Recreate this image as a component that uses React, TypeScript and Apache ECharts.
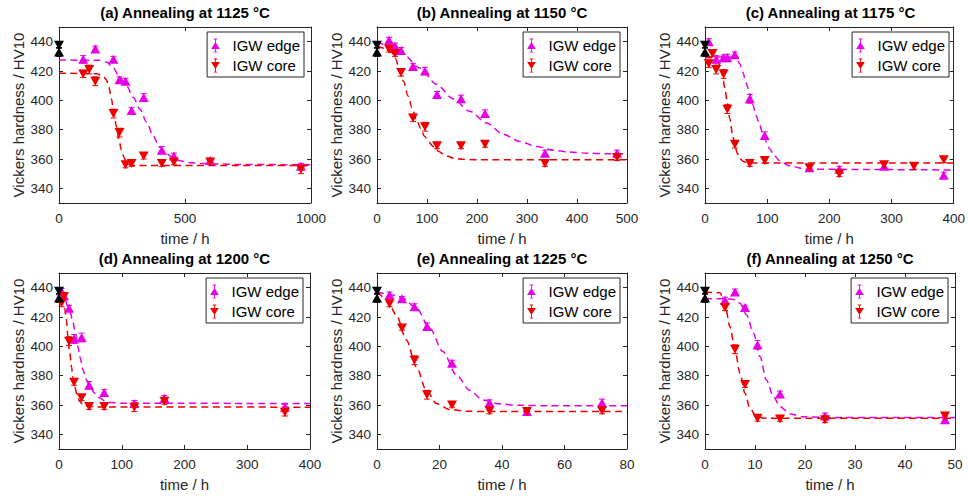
import React, { useEffect, useRef } from "react";
import * as echarts from "echarts";

type Pt = [number, number, number]; // time, hardness, error
type FP = [number, number]; // time, fitted hardness

// ---- tick labels ----
const yTicks = [340, 360, 380, 400, 420, 440];
const xMaxes = [1000, 500, 400, 400, 80, 50];
const xIntervals = [500, 100, 100, 100, 20, 10];
const titles = [
  "(a) Annealing at 1125 °C",
  "(b) Annealing at 1150 °C",
  "(c) Annealing at 1175 °C",
  "(d) Annealing at 1200 °C",
  "(e) Annealing at 1225 °C",
  "(f) Annealing at 1250 °C",
];

// ---- initial (as-received) hardness ----
const initialEdge: Pt[] = [[0, 433, 3]];
const initialCore: Pt[] = [[0, 437.5, 2]];

// ---- (a) 1125 °C ----
const a_edge: Pt[] = [[96, 428, 2.5], [144, 435, 2], [216, 428, 2], [240, 414, 2], [264, 413, 2], [288, 393, 2], [336, 402, 2.5], [408, 366, 2.5], [456, 362, 2], [600, 359, 1.5], [960, 355, 2]];
const a_core: Pt[] = [[96, 418, 2.5], [120, 421, 3], [144, 413, 3], [216, 391, 3], [240, 378, 3], [264, 356, 2], [288, 357, 2], [336, 362, 2], [408, 357, 2], [456, 358, 2], [600, 358, 2], [960, 353, 3]];
const a_edgeFit: FP[] = [[0, 427.5], [160, 427.3], [190, 426], [216, 422], [240, 416], [268, 410], [295, 402], [321, 394], [348, 385], [374, 375.5], [400, 368], [427, 363.6], [455, 360.5], [480, 358.8], [520, 357.5], [560, 357], [700, 356.3], [1000, 356]];
const a_coreFit: FP[] = [[0, 418.5], [150, 418.2], [175, 416.5], [188, 414], [198, 409], [208, 401], [218, 391], [228, 382], [238, 373], [248, 366], [258, 361], [268, 357.5], [280, 356], [300, 355.5], [1000, 355.5]];

// ---- (b) 1150 °C ----
const b_edge: Pt[] = [[24, 441, 2], [36, 437, 2], [48, 434, 2], [72, 423, 2], [96, 420, 2.5], [120, 404, 2], [168, 401, 2.5], [216, 391, 2.5], [336, 364, 2], [480, 364, 2]];
const b_core: Pt[] = [[24, 435, 2], [36, 432, 2], [48, 419, 2.5], [72, 388, 2.5], [96, 382, 3], [120, 369, 2], [168, 369, 2], [216, 370, 2], [336, 357, 2], [480, 361, 2]];
const b_edgeFit: FP[] = [[0, 440], [25, 437], [52, 431.5], [85, 422], [119, 411], [152, 401], [185, 392.6], [219, 384.6], [252, 377], [285, 372], [319, 368.6], [352, 366], [385, 364.8], [419, 364], [460, 363.6], [500, 363.4]];
const b_coreFit: FP[] = [[0, 437], [15, 435.5], [29, 432.7], [37, 428.5], [45, 421], [53, 413], [62, 403], [70, 395], [79, 387], [87, 381], [95, 375.5], [104, 371.5], [112, 368.6], [122, 365.5], [132, 363.6], [142, 361.8], [152, 360.6], [170, 359.8], [200, 359.5], [500, 359.5]];

// ---- (c) 1175 °C ----
const c_edge: Pt[] = [[6, 440, 2], [18, 428, 2.5], [30, 429, 2], [36, 429, 2.5], [48, 431, 2], [72, 401, 3], [96, 376, 2.5], [168, 354, 2], [216, 353, 2], [288, 355, 2], [384, 349, 2]];
const c_core: Pt[] = [[6, 425, 2.5], [12, 432, 2], [18, 421, 3], [30, 418, 3], [36, 394, 3], [48, 370, 2.5], [72, 357, 2], [96, 359, 2], [168, 354, 2], [216, 350, 2], [288, 356, 2], [336, 355, 2], [384, 359.5, 2]];
const c_edgeFit: FP[] = [[0, 429], [20, 429.5], [40, 429.5], [50, 428.5], [56, 425], [61, 419], [66, 412], [72, 404.5], [77, 397], [82, 389.7], [88, 383], [93, 377], [99, 371.5], [104, 366.8], [112, 362], [120, 358.8], [136, 355.3], [162, 353], [400, 352.5]];
const c_coreFit: FP[] = [[0, 430], [10, 429], [16, 428], [20, 426.5], [24, 424], [28, 417], [32, 408], [36, 398], [40, 387.4], [44, 377.5], [48, 369], [52, 364], [56, 360.4], [61, 358.5], [66, 357.6], [80, 357.3], [400, 357.3]];

// ---- (d) 1200 °C ----
const d_edge: Pt[] = [[4, 437.5, 2], [8, 434.5, 2], [16, 426, 2], [24, 405, 3], [36, 406, 3], [48, 373.5, 2.5], [72, 368.5, 2], [120, 361, 2], [168, 364.5, 2], [360, 358.5, 2]];
const d_core: Pt[] = [[4, 429.5, 2.5], [8, 434, 2.5], [16, 403.5, 3], [24, 375.5, 2], [36, 365, 2], [48, 359, 2], [72, 359, 2], [120, 358.5, 3], [168, 362.5, 2], [360, 355, 2.5]];
const d_edgeFit: FP[] = [[0, 437], [8, 433], [14, 428], [18, 423], [22, 417], [26, 409], [30, 400], [34, 392], [38, 384], [44, 377], [49, 372.6], [57, 368], [65, 364.7], [73, 362.8], [81, 361.7], [100, 361.2], [400, 361]];
const d_coreFit: FP[] = [[0, 433], [5, 430], [9, 426], [12, 418], [14, 407], [17, 396], [20, 386], [22, 379], [25, 372.6], [29, 366.5], [33, 362.4], [38, 360.3], [44, 359.4], [60, 358.7], [400, 358.5]];

// ---- (e) 1225 °C ----
const e_edge: Pt[] = [[4, 435, 2], [8, 432.5, 1.5], [12, 427, 2], [16, 413.5, 2.5], [24, 388.5, 2], [36, 361.5, 2], [48, 355.5, 2], [72, 361.5, 2.5]];
const e_core: Pt[] = [[4, 429, 2], [8, 412.5, 1.5], [12, 390.5, 3], [16, 367, 3], [24, 360, 1.5], [36, 356, 2], [48, 355.5, 2], [72, 356, 2]];
const e_edgeFit: FP[] = [[0, 437], [4, 435.5], [8.3, 432.7], [12.6, 426], [16.9, 412.3], [21.1, 396.4], [25.4, 380.5], [29.7, 370], [33.9, 363.4], [39.3, 360.7], [45.7, 359.8], [55, 359.5], [80, 359.5]];
const e_coreFit: FP[] = [[0, 437], [3, 432.7], [6.2, 421.4], [9.4, 404.3], [12.6, 386], [15.8, 370], [19, 361], [23.3, 357], [28.6, 355.7], [35, 355.5], [80, 355.5]];

// ---- (f) 1250 °C ----
const f_edge: Pt[] = [[4, 431.5, 2], [6, 437, 2], [8, 426.5, 1.5], [10.5, 401, 3], [15, 367.5, 2], [24, 352.5, 2], [48, 350, 2]];
const f_core: Pt[] = [[4, 426.5, 2], [6, 398, 3], [8, 374, 2], [10.5, 351, 2], [15, 350.5, 1.5], [24, 350, 2], [48, 352.5, 2]];
const f_edgeFit: FP[] = [[0, 432.5], [4, 432.5], [5.7, 432], [7, 429.3], [8.3, 421.4], [9.7, 409], [11, 393], [12.3, 377], [13.7, 365.7], [15, 358.9], [17, 353.9], [19.7, 352], [24, 351.5], [50, 351.5]];
const f_coreFit: FP[] = [[0, 437], [3, 436.5], [4, 428], [5, 413.4], [6, 397.5], [7, 381.6], [8, 368], [9, 357.7], [10.3, 352], [12, 351], [50, 351]];

const panels = [
  { edge: a_edge, core: a_core, edgeFit: a_edgeFit, coreFit: a_coreFit },
  { edge: b_edge, core: b_core, edgeFit: b_edgeFit, coreFit: b_coreFit },
  { edge: c_edge, core: c_core, edgeFit: c_edgeFit, coreFit: c_coreFit },
  { edge: d_edge, core: d_core, edgeFit: d_edgeFit, coreFit: d_coreFit },
  { edge: e_edge, core: e_core, edgeFit: e_edgeFit, coreFit: e_coreFit },
  { edge: f_edge, core: f_core, edgeFit: f_edgeFit, coreFit: f_coreFit },
];

// layout: [left, top, width, height]
const boxes = [
  [59, 27, 252, 176],
  [377, 27, 250, 176],
  [705, 27, 251, 176],
  [59, 273, 251, 176],
  [377, 273, 250, 176],
  [705, 273, 250, 176],
];

const W = 968;
const H = 496;
const FONT = "'Liberation Sans', Arial, Helvetica, sans-serif";
const MAG = "#e600e6";
const RED = "#ee0000";
const AX = "#262626";

const EDGE_ICON =
  "path://M3 0H7V1H3Z M3 15H7V16H3Z M4.5 0H5.5V16H4.5Z M0 12L5 4L10 12Z";
const CORE_ICON =
  "path://M3 0H7V1H3Z M3 15H7V16H3Z M4.5 0H5.5V16H4.5Z M0 4L10 4L5 12Z";

function errRender(color: string) {
  return (_params: any, api: any) => {
    const x = api.value(0);
    const lo = api.value(1);
    const hi = api.value(2);
    const a = api.coord([x, lo]);
    const b = api.coord([x, hi]);
    const cw = 3;
    const style = { stroke: color, lineWidth: 1, fill: null };
    return {
      type: "group",
      children: [
        { type: "line", shape: { x1: a[0], y1: a[1], x2: b[0], y2: b[1] }, style },
        { type: "line", shape: { x1: a[0] - cw, y1: a[1], x2: a[0] + cw, y2: a[1] }, style },
        { type: "line", shape: { x1: b[0] - cw, y1: b[1], x2: b[0] + cw, y2: b[1] }, style },
      ],
    };
  };
}

function buildOption() {
  const option: any = {
    animation: false,
    backgroundColor: "#ffffff",
    title: [],
    grid: [],
    xAxis: [],
    yAxis: [],
    legend: [],
    series: [],
  };
  const axisLine = { show: true, onZero: false, lineStyle: { color: AX, width: 1 } };
  const axisTick = { show: true, inside: true, length: 4, lineStyle: { color: AX, width: 1 } };

  panels.forEach((p, i) => {
    const [l, t, w, h] = boxes[i];
    option.title.push({
      text: titles[i],
      left: l + w / 2,
      top: t - 22,
      textAlign: "center",
      padding: 0,
      textStyle: { fontSize: 15, fontWeight: "bold", color: "#000", fontFamily: FONT },
    });
    option.grid.push({ left: l, top: t, width: w, height: h, containLabel: false });
    option.xAxis.push({
      type: "value",
      gridIndex: i,
      position: "bottom",
      min: 0,
      max: xMaxes[i],
      interval: xIntervals[i],
      axisLine,
      axisTick,
      axisLabel: {
        show: true,
        margin: 8,
        fontSize: 13.5,
        color: AX,
        fontFamily: FONT,
        formatter: (v: number) => String(v),
      },
      splitLine: { show: false },
      name: "time / h",
      nameLocation: "middle",
      nameGap: 28,
      nameTextStyle: { fontSize: 15, color: AX, fontFamily: FONT },
    });
    option.xAxis.push({
      type: "value",
      gridIndex: i,
      position: "top",
      min: 0,
      max: xMaxes[i],
      interval: xIntervals[i],
      axisLine,
      axisTick,
      axisLabel: { show: false },
      splitLine: { show: false },
    });
    option.yAxis.push({
      type: "value",
      gridIndex: i,
      position: "left",
      min: 330,
      max: 450,
      axisLine,
      axisTick: { ...axisTick, customValues: yTicks },
      axisLabel: { show: true, customValues: yTicks, margin: 6, fontSize: 13.5, color: AX, fontFamily: FONT },
      splitLine: { show: false },
      name: "Vickers hardness / HV10",
      nameLocation: "middle",
      nameGap: 33,
      nameTextStyle: { fontSize: 15, color: AX, fontFamily: FONT },
    });
    option.yAxis.push({
      type: "value",
      gridIndex: i,
      position: "right",
      min: 330,
      max: 450,
      axisLine,
      axisTick: { ...axisTick, customValues: yTicks },
      axisLabel: { show: false, customValues: yTicks },
      splitLine: { show: false },
    });
    option.legend.push({
      data: [
        { name: "IGW edge", icon: EDGE_ICON },
        { name: "IGW core", icon: CORE_ICON },
      ],
      orient: "vertical",
      right: W - (l + w) + 7,
      top: t + 5,
      padding: [6, 4, 4, 4],
      itemWidth: 24,
      itemHeight: 14,
      itemGap: 5,
      borderColor: AX,
      borderWidth: 1,
      borderRadius: 0,
      backgroundColor: "#ffffff",
      selectedMode: false,
      textStyle: { fontSize: 15, color: "#000", fontFamily: FONT },
    });

    const xi = i * 2;
    const yi = i * 2;
    const fitLine = (name: string, data: FP[], color: string) => ({
      type: "line",
      name,
      xAxisIndex: xi,
      yAxisIndex: yi,
      data,
      showSymbol: false,
      smooth: 0.3,
      smoothMonotone: "x",
      lineStyle: { color, width: 1.5, type: [7, 4.5] },
      itemStyle: { color },
      z: 3,
      silent: true,
    });
    const errSeries = (name: string, pts: Pt[], color: string) => ({
      type: "custom",
      name,
      xAxisIndex: xi,
      yAxisIndex: yi,
      renderItem: errRender(color),
      data: pts.map(([tt, hv, e]) => [tt, hv - e, hv + e]),
      encode: { x: 0, y: [1, 2] },
      z: 4,
      silent: true,
    });
    const markSeries = (name: string, pts: Pt[], color: string, down: boolean) => ({
      type: "scatter",
      name,
      xAxisIndex: xi,
      yAxisIndex: yi,
      data: pts.map(([tt, hv]) => [tt, hv]),
      symbol: "triangle",
      symbolSize: [10, 9],
      symbolRotate: down ? 180 : 0,
      itemStyle: { color, opacity: 1 },
      clip: false,
      z: 5,
    });

    option.series.push(
      fitLine("edge fit", p.edgeFit, MAG),
      fitLine("core fit", p.coreFit, RED),
      errSeries("edge err", p.edge, MAG),
      errSeries("core err", p.core, RED),
      errSeries("initial err", initialEdge, "#000"),
      errSeries("initial err core", initialCore, "#000"),
      markSeries("IGW edge", p.edge, MAG, false),
      markSeries("IGW core", p.core, RED, true),
      markSeries("initial", initialEdge, "#000", false),
      markSeries("initial core", initialCore, "#000", true)
    );
  });
  return option;
}

export default function App() {
  const ref = useRef<HTMLDivElement>(null);
  useEffect(() => {
    if (!ref.current) return;
    const chart = echarts.init(ref.current, undefined, { renderer: "svg", width: W, height: H });
    chart.setOption(buildOption());
    return () => chart.dispose();
  }, []);
  return (
    <div
      ref={ref}
      style={{ position: "fixed", left: 0, top: 0, width: W, height: H, background: "#fff" }}
    />
  );
}
